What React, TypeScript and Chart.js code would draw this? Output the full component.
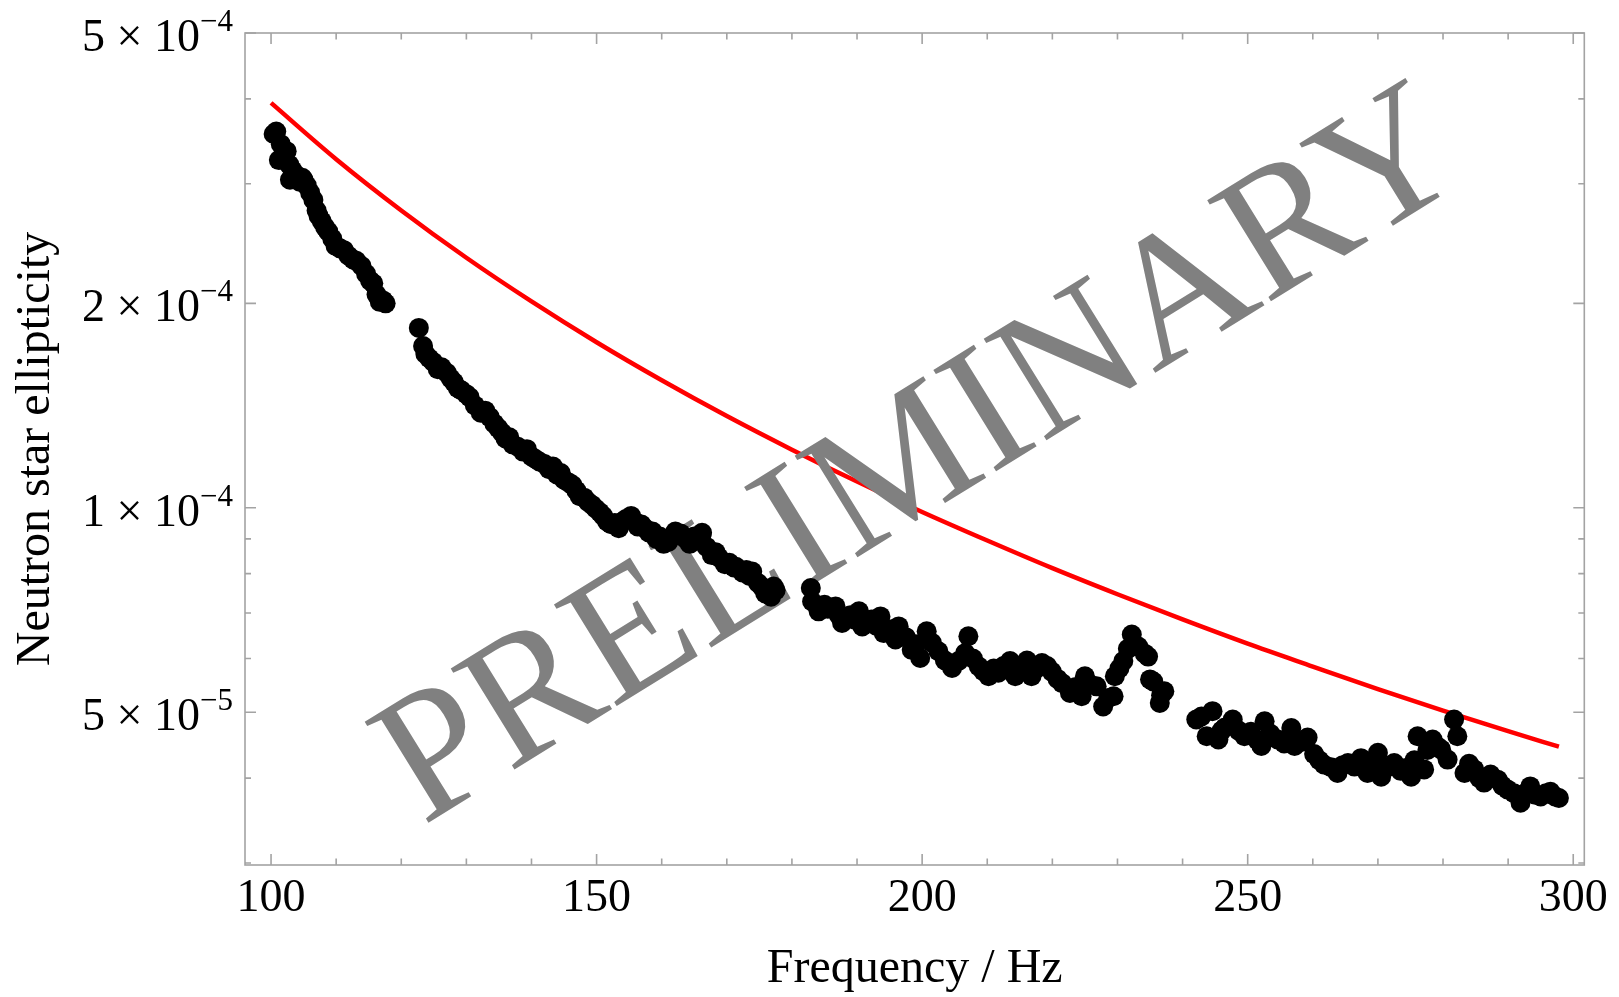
import React, { useEffect, useRef } from "react";
import { Chart, registerables } from "chart.js";

Chart.register(...registerables);

// ---- Data (frequency in Hz, ellipticity) ----
const freqSegA = [100.4, 100.8, 101.2, 101.5, 102.0, 102.4, 102.8, 102.9, 103.3, 103.9, 104.4, 104.8, 105.0, 105.5, 106.0, 106.5, 107.0, 107.3, 107.8, 108.3, 108.8, 109.4, 109.9, 110.6, 111.2, 111.9, 112.6, 113.1, 113.9, 114.6, 115.2, 115.7, 116.2, 116.7, 117.2, 117.6];
const ellSegA = [35.5e-5, 35.8e-5, 32.5e-5, 34.3e-5, 33.4e-5, 33.5e-5, 32.0e-5, 30.4e-5, 31.4e-5, 30.9e-5, 30.2e-5, 30.6e-5, 30.4e-5, 29.8e-5, 29.1e-5, 28.4e-5, 27.4e-5, 26.9e-5, 26.4e-5, 25.9e-5, 25.5e-5, 24.9e-5, 24.3e-5, 24.1e-5, 23.95e-5, 23.5e-5, 23.2e-5, 23.1e-5, 22.7e-5, 22.1e-5, 21.6e-5, 21.4e-5, 20.6e-5, 20.1e-5, 20.2e-5, 20.0e-5];

const freqSegB = [122.7, 123.35, 123.7, 124.3, 124.9, 125.6, 126.2, 127.0, 127.6, 128.1, 128.7, 129.2, 130.0, 130.5, 131.3, 132.2, 132.9, 133.6, 134.3, 134.9, 135.5, 136.0, 136.6, 137.1, 137.9, 138.7, 139.3, 140.0, 140.6, 141.2, 142.0, 142.7, 143.3, 143.9, 144.5, 145.0, 145.7, 146.3, 146.9, 147.4, 148.1, 148.7, 149.3, 149.9, 150.5, 151.0, 151.6, 152.2, 152.8, 153.4, 154.0, 154.5, 155.3, 155.8, 156.3, 156.9, 157.4, 158.0, 158.6, 159.2, 159.7, 160.3, 161.0, 161.5, 162.1, 162.9, 163.7, 164.3, 165.0, 165.6, 166.1, 166.2, 166.9, 167.7, 168.3, 168.8, 169.7, 170.4, 171.1, 171.4, 172.4, 173.0, 173.5, 173.9, 174.8, 175.4, 175.9, 176.0, 176.8, 177.2, 177.5];
const ellSegB = [18.4e-5, 17.3e-5, 16.85e-5, 16.6e-5, 16.4e-5, 16.0e-5, 16.1e-5, 15.8e-5, 15.5e-5, 15.3e-5, 15.0e-5, 14.9e-5, 14.7e-5, 14.55e-5, 14.15e-5, 13.8e-5, 13.9e-5, 13.6e-5, 13.3e-5, 13.1e-5, 12.9e-5, 12.65e-5, 12.7e-5, 12.4e-5, 12.3e-5, 12.1e-5, 12.2e-5, 11.9e-5, 11.8e-5, 11.7e-5, 11.6e-5, 11.4e-5, 11.5e-5, 11.2e-5, 11.25e-5, 11.0e-5, 10.9e-5, 10.8e-5, 10.6e-5, 10.4e-5, 10.35e-5, 10.2e-5, 10.1e-5, 9.97e-5, 9.85e-5, 9.73e-5, 9.55e-5, 9.46e-5, 9.50e-5, 9.33e-5, 9.55e-5, 9.63e-5, 9.73e-5, 9.55e-5, 9.39e-5, 9.45e-5, 9.33e-5, 9.20e-5, 9.23e-5, 9.00e-5, 9.07e-5, 8.85e-5, 8.91e-5, 9.05e-5, 9.23e-5, 9.17e-5, 9.00e-5, 8.85e-5, 9.07e-5, 8.95e-5, 9.13e-5, 9.19e-5, 8.76e-5, 8.52e-5, 8.60e-5, 8.45e-5, 8.26e-5, 8.30e-5, 8.17e-5, 8.19e-5, 8.03e-5, 8.10e-5, 7.94e-5, 8.06e-5, 7.75e-5, 7.65e-5, 7.48e-5, 7.58e-5, 7.40e-5, 7.66e-5, 7.56e-5];

const freqSegC = [182.9, 183.1, 184.1, 185.0, 185.5, 186.7, 187.2, 187.7, 189.0, 189.6, 190.3, 190.8, 191.5, 192.2, 193.0, 193.6, 194.1, 195.2, 195.9, 196.4, 197.5, 198.4, 199.0, 199.7, 200.7, 201.5, 202.5, 203.5, 204.6, 205.6, 206.6, 207.1, 207.8, 208.7, 209.4, 210.2, 211.0, 211.7, 212.5, 213.5, 214.3, 215.2, 216.1, 216.8, 217.6, 218.4, 219.2, 219.9, 220.8, 221.5, 222.7, 223.6, 224.5, 225.0, 225.8, 226.8, 227.8, 228.6, 229.4, 229.6, 230.3, 230.9, 231.6, 232.2, 233.2, 234.2, 234.7, 235.0, 235.5, 236.5, 236.7, 237.2];
const ellSegC = [7.62e-5, 7.28e-5, 7.04e-5, 7.20e-5, 7.10e-5, 7.16e-5, 6.95e-5, 6.77e-5, 6.95e-5, 6.85e-5, 7.04e-5, 6.69e-5, 6.80e-5, 6.85e-5, 6.70e-5, 6.92e-5, 6.54e-5, 6.62e-5, 6.40e-5, 6.69e-5, 6.45e-5, 6.18e-5, 6.30e-5, 6.01e-5, 6.58e-5, 6.33e-5, 6.15e-5, 5.96e-5, 5.81e-5, 5.95e-5, 6.11e-5, 6.47e-5, 6.00e-5, 5.84e-5, 5.75e-5, 5.65e-5, 5.80e-5, 5.72e-5, 5.85e-5, 5.95e-5, 5.65e-5, 5.80e-5, 5.96e-5, 5.65e-5, 5.80e-5, 5.91e-5, 5.85e-5, 5.74e-5, 5.60e-5, 5.52e-5, 5.34e-5, 5.45e-5, 5.28e-5, 5.65e-5, 5.50e-5, 5.46e-5, 5.10e-5, 5.25e-5, 5.28e-5, 5.65e-5, 5.80e-5, 5.95e-5, 6.20e-5, 6.51e-5, 6.25e-5, 6.10e-5, 6.04e-5, 5.59e-5, 5.55e-5, 5.16e-5, 5.30e-5, 5.37e-5];

const freqSegD = [242.1, 242.9, 243.7, 244.6, 245.5, 246.0, 246.5, 247.7, 248.6, 249.5, 250.5, 251.5, 252.1, 252.6, 253.5, 254.6, 255.6, 256.7, 257.2, 258.2, 259.2, 260.2, 261.0, 261.7, 262.8, 263.8, 264.6, 265.4, 266.4, 267.4, 268.4, 269.2, 270.0, 270.5, 271.5, 272.5, 273.5, 274.3, 275.1, 275.6, 276.1, 277.1, 277.6, 278.4, 279.2, 279.7, 280.7, 281.7, 282.2, 283.3, 284.0, 284.8, 285.6, 286.3, 287.3, 288.4, 289.1, 289.9, 290.9, 291.9, 292.6, 293.4, 294.2, 295.0, 295.8, 296.5, 297.2, 297.8];
const ellSegD = [4.88e-5, 4.93e-5, 4.61e-5, 5.02e-5, 4.56e-5, 4.70e-5, 4.75e-5, 4.88e-5, 4.70e-5, 4.61e-5, 4.68e-5, 4.55e-5, 4.46e-5, 4.85e-5, 4.65e-5, 4.56e-5, 4.50e-5, 4.74e-5, 4.46e-5, 4.52e-5, 4.59e-5, 4.34e-5, 4.25e-5, 4.19e-5, 4.15e-5, 4.07e-5, 4.18e-5, 4.21e-5, 4.16e-5, 4.28e-5, 4.07e-5, 4.20e-5, 4.36e-5, 4.02e-5, 4.15e-5, 4.21e-5, 4.10e-5, 4.14e-5, 4.02e-5, 4.25e-5, 4.61e-5, 4.12e-5, 4.40e-5, 4.56e-5, 4.45e-5, 4.41e-5, 4.26e-5, 4.88e-5, 4.61e-5, 4.07e-5, 4.20e-5, 4.12e-5, 4.00e-5, 3.94e-5, 4.05e-5, 3.98e-5, 3.90e-5, 3.85e-5, 3.80e-5, 3.68e-5, 3.80e-5, 3.89e-5, 3.78e-5, 3.76e-5, 3.80e-5, 3.82e-5, 3.76e-5, 3.74e-5];

const limitFreq = [100, 110, 120, 130, 140, 150, 160, 170, 180, 190, 200, 210, 220, 230, 240, 250, 260, 270, 280, 290, 297.8];
const limitEll = [39.45e-5, 32.6e-5, 27.4e-5, 23.34e-5, 20.13e-5, 17.53e-5, 15.41e-5, 13.65e-5, 12.18e-5, 10.93e-5, 9.86e-5, 8.95e-5, 8.15e-5, 7.46e-5, 6.85e-5, 6.31e-5, 5.84e-5, 5.41e-5, 5.03e-5, 4.69e-5, 4.45e-5];

// ---- Axes ----
const xTickValues = [100, 150, 200, 250, 300];
const xMinorTickValues = [110, 120, 130, 140, 160, 170, 180, 190, 210, 220, 230, 240, 260, 270, 280, 290];
const yTickValues = [5e-5, 1e-4, 2e-4, 5e-4];
const yTickMantissas = ["5", "1", "2", "5"];
const yTickExponents = ["−5", "−4", "−4", "−4"];
const yMinorTickValues = [3e-5, 4e-5, 6e-5, 7e-5, 8e-5, 9e-5, 3e-4, 4e-4];
const xTitle = "Frequency / Hz";
const yTitle = "Neutron star ellipticity";
const watermarkText = "PRELIMINARY";

const SERIF = "'Liberation Serif', 'Times New Roman', Times, serif";

const zip = (fs: number[], vs: number[]) => fs.map((f, i) => ({ x: f, y: vs[i] }));

const framePlugin = {
  id: "frameTicks",
  beforeDatasetsDraw(chart: any) {
    const { ctx, chartArea: a, scales } = chart;
    const xs = scales.x;
    const ys = scales.y;
    ctx.save();
    ctx.strokeStyle = "#a3a3a3";
    ctx.lineWidth = 1.6;
    ctx.strokeRect(a.left, a.top, a.right - a.left, a.bottom - a.top);
    ctx.beginPath();
    const tx = (v: number, len: number) => {
      const p = xs.getPixelForValue(v);
      ctx.moveTo(p, a.bottom);
      ctx.lineTo(p, a.bottom - len);
      ctx.moveTo(p, a.top);
      ctx.lineTo(p, a.top + len);
    };
    const ty = (v: number, len: number) => {
      const p = ys.getPixelForValue(v);
      ctx.moveTo(a.left, p);
      ctx.lineTo(a.left + len, p);
      ctx.moveTo(a.right, p);
      ctx.lineTo(a.right - len, p);
    };
    xTickValues.forEach((v) => tx(v, 11));
    xMinorTickValues.forEach((v) => tx(v, 6.5));
    yTickValues.forEach((v) => ty(v, 11));
    yMinorTickValues.forEach((v) => ty(v, 6));
    ctx.stroke();

    // y tick labels with proper superscripts: "m × 10^e"
    ctx.fillStyle = "#000000";
    ctx.textBaseline = "alphabetic";
    ctx.textAlign = "left";
    const mainFont = `46px ${SERIF}`;
    const supFont = `31px ${SERIF}`;
    yTickValues.forEach((v, i) => {
      const p = ys.getPixelForValue(v);
      const main = `${yTickMantissas[i]} × 10`;
      const sup = yTickExponents[i];
      ctx.font = mainFont;
      const wm = ctx.measureText(main).width;
      ctx.font = supFont;
      const ws = ctx.measureText(sup).width;
      const right = a.left - 12;
      const x0 = right - wm - ws;
      const base = p + 18;
      ctx.font = mainFont;
      ctx.fillText(main, x0, base);
      ctx.font = supFont;
      ctx.fillText(sup, x0 + wm, base - 20);
    });
    ctx.restore();
  },
};

const watermarkPlugin = {
  id: "watermark",
  afterDatasetDraw(chart: any, args: any) {
    if (args.index !== 1) return;
    const { ctx, chartArea: a } = chart;
    ctx.save();
    ctx.translate(a.left + 178, a.top + 793);
    ctx.rotate((-31.75 * Math.PI) / 180);
    ctx.font = `182px ${SERIF}`;
    ctx.fillStyle = "#808080";
    ctx.textBaseline = "alphabetic";
    ctx.textAlign = "left";
    ctx.fillText(watermarkText, 0, 0);
    ctx.restore();
  },
};

export default function App() {
  const canvasRef = useRef<HTMLCanvasElement | null>(null);

  useEffect(() => {
    if (!canvasRef.current) return;
    const dots = [
      ...zip(freqSegA, ellSegA),
      ...zip(freqSegB, ellSegB),
      ...zip(freqSegC, ellSegC),
      ...zip(freqSegD, ellSegD),
    ];
    const chart = new Chart(canvasRef.current, {
      type: "scatter",
      data: {
        datasets: [
          {
            type: "scatter",
            data: dots,
            pointRadius: 10,
            pointHoverRadius: 10,
            pointBackgroundColor: "#000000",
            pointBorderWidth: 0,
            pointBorderColor: "#000000",
            order: 1,
          } as any,
          {
            type: "line",
            data: zip(limitFreq, limitEll),
            showLine: true,
            borderColor: "#ff0000",
            borderWidth: 4.5,
            pointRadius: 0,
            fill: false,
            cubicInterpolationMode: "monotone",
            order: 2,
          } as any,
        ],
      },
      options: {
        animation: false,
        responsive: true,
        maintainAspectRatio: false,
        devicePixelRatio: 1,
        layout: { padding: { top: 33, right: 32, left: 0, bottom: 0 } },
        plugins: { legend: { display: false }, tooltip: { enabled: false } },
        events: [],
        scales: {
          x: {
            type: "linear",
            min: 96,
            max: 301.7,
            grid: { display: false, drawTicks: false },
            border: { display: false },
            afterBuildTicks: (scale: any) => {
              scale.ticks = xTickValues.map((v) => ({ value: v }));
            },
            afterFit: (scale: any) => {
              scale.height = 132;
            },
            ticks: {
              autoSkip: false,
              maxRotation: 0,
              padding: 11,
              color: "#000000",
              font: { family: SERIF, size: 46, lineHeight: 1 },
              callback: (v: any) => String(v),
            },
            title: {
              display: true,
              text: xTitle,
              color: "#000000",
              font: { family: SERIF, size: 48, lineHeight: 1 },
              padding: { top: 0, bottom: 4 },
            },
          },
          y: {
            type: "logarithmic",
            min: 2.98e-5,
            max: 5e-4,
            grid: { display: false, drawTicks: false },
            border: { display: false },
            afterBuildTicks: (scale: any) => {
              scale.ticks = yTickValues.map((v) => ({ value: v }));
            },
            afterFit: (scale: any) => {
              scale.width = 245;
            },
            ticks: {
              display: false,
            },
            title: {
              display: true,
              text: yTitle,
              color: "#000000",
              font: { family: SERIF, size: 48, lineHeight: 1 },
              padding: { top: 12, bottom: 0 },
            },
          },
        },
      },
      plugins: [framePlugin, watermarkPlugin],
    } as any);
    return () => chart.destroy();
  }, []);

  return (
    <div style={{ position: "absolute", left: 0, top: 0, width: 1619, height: 997 }}>
      <canvas ref={canvasRef} />
    </div>
  );
}
